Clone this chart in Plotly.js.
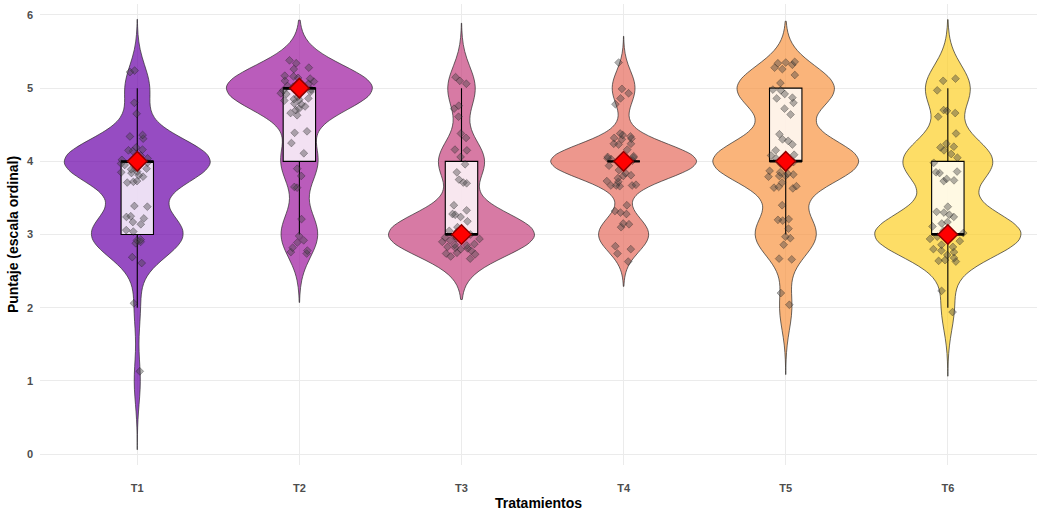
<!DOCTYPE html>
<html>
<head>
<meta charset="utf-8">
<script src="https://cdn.plot.ly/plotly-3.0.1.min.js"></script>
<style>
  html, body { margin: 0; padding: 0; background: #ffffff; }
  #chart { width: 1037px; height: 517px; }
</style>
</head>
<body>
<div id="chart"></div>
<script>
// Treatments shown on the x axis
const tratamientos = ['T1', 'T2', 'T3', 'T4', 'T5', 'T6'];

// Observed scores per treatment, as plotted (ordinal 1-5 with vertical jitter)
const puntosT1 = [5.24, 5.22, 4.80, 4.65,
  4.36, 4.31, 4.34, 4.19, 4.15, 4.14, 4.16, 4.04, 3.97, 3.91, 3.89, 3.86, 3.85, 3.84,
  3.90, 3.79, 3.73, 3.81, 3.71, 3.72, 4.02, 3.98, 4.08, 3.95,
  3.39, 3.38, 3.25, 3.24, 3.22, 3.17, 3.14, 3.06, 3.04, 2.93, 2.92, 2.90, 2.88, 2.69, 2.61,
  2.06, 1.13];
const puntosT2 = [5.38, 5.34, 5.28, 5.26, 5.16, 5.17, 5.13, 5.09, 5.14, 5.06, 5.01, 5.06,
  4.93, 4.92, 4.79, 4.85, 4.84, 4.86, 4.83, 4.78, 4.75, 4.70, 4.66, 4.63,
  5.03, 4.97, 4.95, 5.10, 4.88, 5.02, 4.98, 4.72,
  4.39, 4.41, 4.25, 4.11, 3.90, 3.80, 3.65, 3.64,
  3.21, 2.98, 2.89, 2.92, 2.82, 2.78, 2.74, 2.76];
const puntosT3 = [5.15, 5.10, 5.06, 4.76, 4.72, 4.61,
  4.38, 4.32, 4.16, 4.15, 4.06, 3.96, 3.85, 3.70, 3.71, 3.75,
  3.40, 3.33, 3.28, 3.24, 3.27, 3.18, 3.08, 3.05, 2.95, 2.81, 2.92, 2.86, 2.82, 2.83,
  2.87, 2.80, 2.75, 2.73, 2.67, 2.96, 2.74, 2.70,
  3.02, 2.98, 3.00, 2.94, 3.04, 2.90, 2.78, 3.10, 2.85, 2.99];
const puntosT4 = [5.35, 4.99, 4.86, 4.93, 4.78,
  4.38, 4.30, 4.24, 4.16, 4.36, 4.31, 4.32, 4.34, 4.24, 4.23, 4.06, 4.07, 4.03, 4.04,
  4.05, 3.94, 3.88, 3.84, 3.80, 3.81, 3.77, 3.68, 3.67, 3.66, 3.67, 3.73, 3.72, 3.67,
  4.01, 3.98, 4.02, 3.96,
  3.40, 3.32, 3.30, 3.28, 3.15, 3.10, 3.14, 2.84, 2.80, 2.74, 2.63];
const puntosT5 = [5.35, 5.34, 5.36, 5.32, 5.26, 5.28, 5.07, 4.87, 4.86, 4.98, 4.97, 4.80,
  4.64, 4.72, 5.18, 4.92,
  4.37, 4.30, 4.23, 4.28, 4.15, 4.09, 4.08, 3.85, 3.79, 3.83, 3.87, 3.82, 3.80, 3.65,
  3.66, 3.71, 3.63, 3.64, 3.80, 4.02, 3.97, 4.04, 3.94, 3.99,
  3.40, 3.19, 3.21, 3.20, 3.08, 2.97, 2.95, 2.86, 2.67, 2.66,
  2.20, 2.04];
const puntosT6 = [5.13, 5.10, 4.97, 4.66, 4.69, 4.61, 4.70,
  4.38, 4.19, 4.10, 4.24, 4.20, 4.15, 4.05, 3.84, 3.86, 3.85, 3.74, 3.76, 3.73, 3.98,
  3.38, 3.30, 3.27, 3.24, 3.17, 3.31, 3.15, 3.11, 2.86, 2.83, 2.78, 2.63, 2.72, 2.64,
  2.68, 2.80, 2.76, 2.65, 2.91, 3.02, 2.97, 3.05, 2.94,
  2.23, 1.94];

const puntos = [puntosT1, puntosT2, puntosT3, puntosT4, puntosT5, puntosT6];

// Fill colours for the violins (plasma scale)
const colores = ['#6A00A8', '#9C179E', '#C6417D', '#E56B5D', '#F89441', '#FCCE25'];

const yTicks = [0, 1, 2, 3, 4, 5, 6];

// ---- helpers -------------------------------------------------------------
function rgba(hex, a) {
  const n = parseInt(hex.slice(1), 16);
  return `rgba(${(n >> 16) & 255},${(n >> 8) & 255},${n & 255},${a})`;
}
function quantile7(sorted, p) {
  const h = (sorted.length - 1) * p;
  const lo = Math.floor(h), hi = Math.ceil(h);
  return sorted[lo] + (h - lo) * (sorted[hi] - sorted[lo]);
}
// Silverman's rule of thumb (same as R's bw.nrd0)
function nrd0(v) {
  const n = v.length;
  const mean = v.reduce((a, b) => a + b, 0) / n;
  const sd = Math.sqrt(v.reduce((a, b) => a + (b - mean) ** 2, 0) / (n - 1));
  const s = v.slice().sort((a, b) => a - b);
  const iqr = quantile7(s, 0.75) - quantile7(s, 0.25);
  let lo = Math.min(sd, iqr / 1.34);
  if (!lo) lo = sd || Math.abs(s[0]) || 1;
  return 0.9 * lo * Math.pow(n, -0.2);
}

const BOX_W = 0.2;
const violins = [], boxes = [], jitter = [], medLines = [], medians = [];

tratamientos.forEach((t, i) => {
  const y = puntos[i];
  const score = y.map(v => Math.round(v));       // ordinal score of each observation
  const xs = score.map(() => t);
  const sorted = score.slice().sort((a, b) => a - b);
  const bw = nrd0(score);
  const med = quantile7(sorted, 0.5);

  violins.push({
    type: 'violin', x: xs, y: score, name: t, showlegend: false,
    fillcolor: rgba(colores[i], 0.7),
    line: { color: '#2b2b2b', width: 0.7 },
    points: false, box: { visible: false }, meanline: { visible: false },
    bandwidth: bw, spanmode: 'manual',
    span: [sorted[0] - 3 * bw, sorted[sorted.length - 1] + 3 * bw],
    scalemode: 'width', width: 0.9, hoverinfo: 'skip'
  });

  // Tukey box: whiskers stop at 1.5 IQR, outliers are not drawn
  boxes.push({
    type: 'box', x: xs, y: score, name: t, showlegend: false,
    fillcolor: 'rgba(255,255,255,0.82)',
    line: { color: '#000000', width: 1.1 },
    whiskerwidth: 0, boxpoints: 'outliers', width: BOX_W,
    marker: { color: 'rgba(0,0,0,0)', line: { width: 0 } },
    quartilemethod: 'linear', hoverinfo: 'skip'
  });

  jitter.push({
    type: 'box', x: xs, y: y, name: t, showlegend: false,
    fillcolor: 'rgba(0,0,0,0)', line: { color: 'rgba(0,0,0,0)', width: 0 },
    boxpoints: 'all', jitter: 1, pointpos: 0, width: 0.26,
    marker: { symbol: 'diamond', size: 6, color: 'rgba(70,70,70,0.42)',
              line: { color: 'rgba(0,0,0,0.45)', width: 0.6 } },
    hoverinfo: 'skip'
  });

  // thicker median bar across the box
  medLines.push({
    type: 'scatter', mode: 'lines', xaxis: 'x2',
    x: [i - BOX_W / 2, i + BOX_W / 2], y: [med, med], showlegend: false,
    line: { color: '#000000', width: 2.4 }, hoverinfo: 'skip'
  });

  medians.push({
    type: 'scatter', mode: 'markers', xaxis: 'x2', x: [i], y: [med], showlegend: false,
    marker: { symbol: 'diamond', size: 15, color: '#FF0000',
              line: { color: '#8B0000', width: 1.5 } },
    hoverinfo: 'skip'
  });
});

const traces = [...violins, ...boxes, ...jitter, ...medLines, ...medians];

const X_RANGE = [-0.6, 5.55];

const layout = {
  width: 1037, height: 517,
  margin: { l: 40, r: 0, t: 4, b: 52 },
  paper_bgcolor: '#ffffff', plot_bgcolor: '#ffffff',
  showlegend: false,
  boxmode: 'overlay', violinmode: 'overlay',
  font: { family: 'Liberation Sans, Arial, sans-serif' },
  xaxis: {
    type: 'category', categoryorder: 'array', categoryarray: tratamientos,
    range: X_RANGE, showgrid: true, gridcolor: '#EBEBEB', gridwidth: 1,
    zeroline: false, showline: false, ticks: '',
    tickfont: { size: 11, color: '#4D4D4D', weight: 'bold' },
    ticklabelstandoff: 15,
    title: { text: 'Tratamientos', font: { size: 14, color: '#000000', weight: 'bold' }, standoff: 5 },
    automargin: false
  },
  xaxis2: {
    overlaying: 'x', range: X_RANGE, visible: false, fixedrange: true
  },
  yaxis: {
    range: [-0.15, 6.15], tickvals: yTicks, ticktext: yTicks.map(String),
    showgrid: true, gridcolor: '#EBEBEB', gridwidth: 1,
    zeroline: false, showline: false, ticks: '',
    tickfont: { size: 11, color: '#4D4D4D', weight: 'bold' },
    ticklabelstandoff: 6,
    title: { text: 'Puntaje (escala ordinal)', font: { size: 14, color: '#000000', weight: 'bold' }, standoff: 4 },
    automargin: false
  }
};

Plotly.newPlot('chart', traces, layout, { displayModeBar: false, staticPlot: true });
</script>
</body>
</html>
